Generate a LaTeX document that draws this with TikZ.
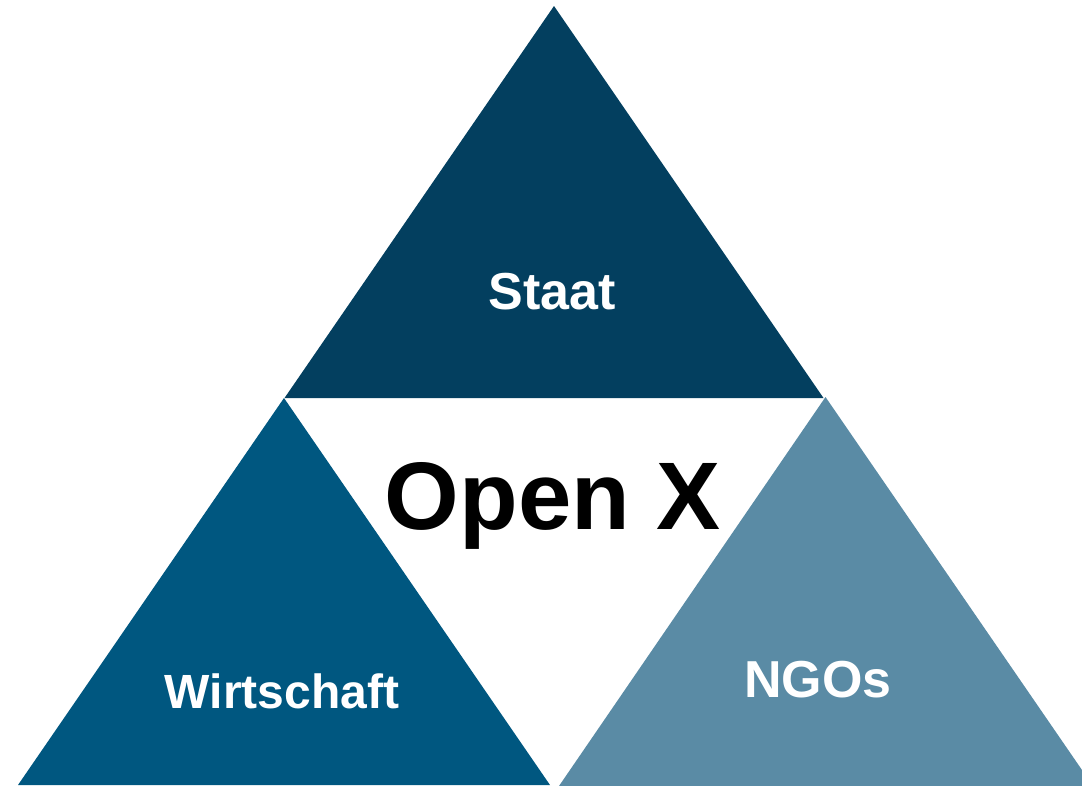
\documentclass[tikz,border=0pt]{standalone}
\usepackage{fontspec}
\setmainfont{Liberation Sans}
\definecolor{topc}{RGB}{3,63,95}
\definecolor{leftc}{RGB}{0,87,128}
\definecolor{rightc}{RGB}{90,139,165}
\begin{document}
\begin{tikzpicture}[x=1pt,y=-1pt,
  lbl/.style={anchor=base,text=white,font=\bfseries\fontsize{52}{60}\selectfont,inner sep=0pt}]
\useasboundingbox (0,0) rectangle (1082,785);
\clip (0,0) rectangle (1082,785);
\fill[topc] (554,6) -- (823.5,398) -- (284.5,398) -- cycle;
\fill[leftc] (284,398) -- (550,785) -- (18,785) -- cycle;
\fill[rightc] (825.5,397) -- (1093,786) -- (559,786) -- cycle;
\node[lbl] (staat) at (552,309) {Staat};
\node[lbl,font=\bfseries\fontsize{48}{56}\selectfont] (wirt) at (282,708) {Wirtschaft};
\node[lbl] (ngo) at (818,697) {NGOs};
\node[anchor=base,inner sep=0pt,font=\bfseries\fontsize{96}{110}\selectfont] (open) at (553,529) {Open X};
\end{tikzpicture}
\end{document}
